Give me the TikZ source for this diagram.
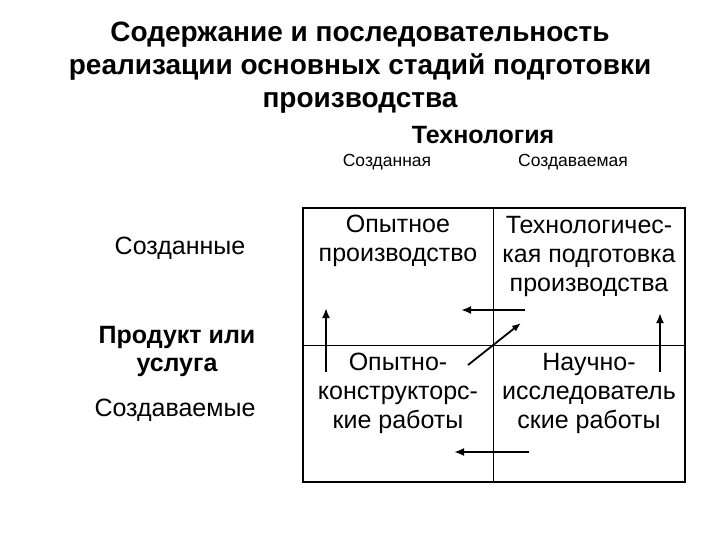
\documentclass[tikz,border=0pt]{standalone}
\usepackage{fontspec}
\usetikzlibrary{arrows.meta}
\setmainfont{Liberation Sans}
\begin{document}
\begin{tikzpicture}[x=1pt,y=-1pt,
 txt/.style={font=\fontsize{25}{29}\selectfont,align=center,inner sep=0pt},
 ttl/.style={font=\bfseries\fontsize{28}{33}\selectfont,align=center,inner sep=0pt},
 arr/.style={-{Latex[length=10pt,width=8pt]},line width=2.4pt},
 ln/.style={line width=0.6pt}]
\useasboundingbox (0,0) rectangle (720,540);
\node[ttl] (title) at (360,68) {Содержание и последовательность\\реализации основных стадий подготовки\\производства};
\node[font=\bfseries\fontsize{25}{28}\selectfont,inner sep=0pt] (tech) at (483,135) {Технология};
\node[txt,font=\fontsize{17.5}{20}\selectfont] (c1) at (387,162) {Созданная};
\node[txt,font=\fontsize{17.5}{20}\selectfont] (c2) at (573,162) {Создаваемая};
\node[txt] (r1) at (180,248) {Созданные};
\node[txt,font=\bfseries\fontsize{25}{28}\selectfont] (prod) at (177,351) {Продукт или\\услуга};
\node[txt] (r2) at (175,410) {Создаваемые};
\draw[line width=1.5pt] (303,208) rectangle (685,482);
\draw[ln] (493,208) -- (493,482);
\draw[ln] (303,345) -- (685,345);
\node[txt] (op) at (398,241) {Опытное\\производство};
\node[txt] (tp) at (589,256) {Технологичес-\\кая подготовка\\производства};
\node[txt] (ok) at (398,393) {Опытно-\\конструкторс-\\кие работы};
\node[txt] (ni) at (589,393) {Научно-\\исследователь\\ские работы};
\coordinate (a1s) at (326,372); \coordinate (a1e) at (326,308);
\coordinate (a2s) at (525,310); \coordinate (a2e) at (461,310);
\coordinate (a3s) at (468,365); \coordinate (a3e) at (521,323);
\coordinate (a4s) at (660,372); \coordinate (a4e) at (660,313);
\coordinate (a5s) at (529,452); \coordinate (a5e) at (454,452);
\draw[arr] (a1s) -- (a1e);
\draw[arr] (a2s) -- (a2e);
\draw[-{Latex[length=9pt,width=7pt]},line width=1.8pt] (a3s) -- (a3e);
\draw[arr] (a4s) -- (a4e);
\draw[arr] (a5s) -- (a5e);
\end{tikzpicture}
\end{document}
